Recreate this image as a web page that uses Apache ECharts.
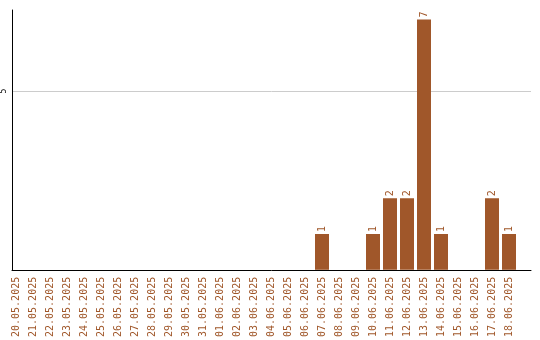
<!DOCTYPE html>
<html>
<head>
<meta charset="utf-8">
<script src="https://cdn.jsdelivr.net/npm/echarts@6/dist/echarts.min.js"></script>
<style>html,body{margin:0;padding:0;background:#fff}#c{width:540px;height:340px}</style>
</head>
<body>
<div id="c"></div>
<script>
const categories = ["20.05.2025","21.05.2025","22.05.2025","23.05.2025","24.05.2025","25.05.2025","26.05.2025","27.05.2025","28.05.2025","29.05.2025","30.05.2025","31.05.2025","01.06.2025","02.06.2025","03.06.2025","04.06.2025","05.06.2025","06.06.2025","07.06.2025","08.06.2025","09.06.2025","10.06.2025","11.06.2025","12.06.2025","13.06.2025","14.06.2025","15.06.2025","16.06.2025","17.06.2025","18.06.2025"];
const values = [0,0,0,0,0,0,0,0,0,0,0,0,0,0,0,0,0,0,1,0,0,1,2,2,7,1,0,0,2,1];
const yTickLabels = [5];
const yMax = 7.263;

const COLOR = '#a0572a';
const FONT = 'DejaVu Sans Mono';

const chart = echarts.init(document.getElementById('c'), null, {renderer: 'canvas'});
chart.setOption({
  animation: false,
  backgroundColor: '#fff',
  grid: [
    {left: 11, right: 9, top: 10, bottom: 70, containLabel: false},
    {left: 7.5, width: 510, top: 10, bottom: 70, containLabel: false}
  ],
  xAxis: [
    {gridIndex: 0, type: 'value', min: 0, max: 1, axisLine: {show: true, onZero: false, lineStyle: {color: '#000', width: 1}},
     axisTick: {show: false}, axisLabel: {show: false}, splitLine: {show: false}},
    {gridIndex: 1, type: 'category', data: categories, boundaryGap: true,
     axisLine: {show: false}, axisTick: {show: false}, splitLine: {show: false},
     axisLabel: {interval: 0, rotate: 90, margin: 7, color: COLOR, fontFamily: FONT, fontSize: 10}}
  ],
  yAxis: [
    {gridIndex: 0, type: 'value', min: 0, max: yMax, interval: 5,
     axisLine: {show: true, lineStyle: {color: '#000', width: 1}}, axisTick: {show: false},
     splitLine: {show: false},
     axisLabel: {rotate: 90, margin: 4, color: '#000', fontFamily: FONT, fontSize: 8,
       formatter: v => yTickLabels.indexOf(v) >= 0 ? String(v) : ''}},
    {gridIndex: 1, type: 'value', min: 0, max: yMax, show: false}
  ],
  series: [
    {type: 'line', xAxisIndex: 0, yAxisIndex: 0, data: [], silent: true, z: 0, zlevel: 0,
     markLine: {silent: true, symbol: 'none', label: {show: false}, z: 0,
       lineStyle: {color: '#cccccc', type: 'solid', width: 1},
       data: yTickLabels.map(v => ({yAxis: v}))}},
    {type: 'bar', xAxisIndex: 1, yAxisIndex: 1, data: values, barWidth: 14, z: 5,
     itemStyle: {color: COLOR},
     label: {show: true, position: 'top', rotate: 90, align: 'left', verticalAlign: 'middle', distance: 2,
       color: COLOR, fontFamily: FONT, fontSize: 10,
       formatter: p => p.value ? String(p.value) : ''}}
  ]
});
</script>
</body>
</html>
